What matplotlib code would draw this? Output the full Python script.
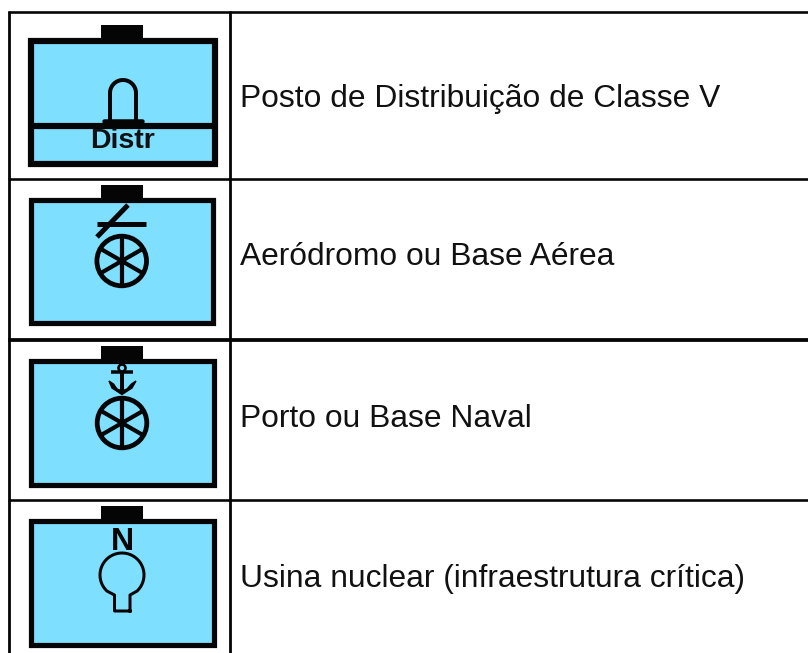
import matplotlib
matplotlib.use('Agg')
import numpy as np
import matplotlib.pyplot as plt
from matplotlib.patches import Rectangle, Circle

labels = [
    'Posto de Distribuição de Classe V',
    'Aeródromo ou Base Aérea',
    'Porto ou Base Naval',
    'Usina nuclear (infraestrutura crítica)',
]
label_y = [107, 265, 427, 587]

BLUE = '#7FDFFF'
DARK = '#050505'

plt.rcParams['font.family'] = ['Liberation Sans', 'DejaVu Sans']
fig = plt.figure(figsize=(8.08, 6.53), dpi=100)
ax = fig.add_axes([0, 0, 1, 1])
ax.set_xlim(0, 808)
ax.set_ylim(653, 0)
ax.axis('off')


def line(xs, ys, lw=3.6):
    # lw given in pixels
    ax.plot(xs, ys, color=DARK, lw=lw * 0.72, solid_capstyle='butt', zorder=4)


def frame(x0, y0, x1, y1, tab_y, lw=5.2):
    ax.add_patch(Rectangle((x0, y0), x1 - x0, y1 - y0, fc=BLUE, ec=DARK, lw=lw * 0.72, zorder=2))
    ax.add_patch(Rectangle((101, tab_y), 42, y0 - tab_y, fc=DARK, ec='none', zorder=3))


def wheel(cx, cy, r=24.8):
    ax.add_patch(Circle((cx, cy), r, fc='none', ec=DARK, lw=4.8 * 0.72, zorder=4))
    for a in np.deg2rad([90, 30, -30]):
        line([cx - r * np.cos(a), cx + r * np.cos(a)], [cy - r * np.sin(a), cy + r * np.sin(a)], 4.2)


# icon 1, distribution post
frame(31, 40.5, 215, 163.5, 25, 6.2)
line([31, 215], [126.3, 126.3], 6.2)
ax.plot([104, 142], [120.5, 120.5], color=DARK, lw=4.5 * 0.72, solid_capstyle='round', zorder=4)
t = np.deg2rad(np.linspace(180, 0, 30))
ax.plot(np.r_[110, 123 + 13 * np.cos(t), 136], np.r_[119, 93 - 13 * np.sin(t), 119],
        color=DARK, lw=4 * 0.72, zorder=4)
ax.text(123, 140.5, 'Distr', fontsize=20.5, fontweight='bold', ha='center', va='center', color='#111111', zorder=5)

# icon 2, airfield
frame(30.6, 200, 213, 323, 185)
wheel(121.7, 261)
line([97, 146], [224, 224], 5)
line([97, 128], [237, 205], 5)

# icon 3, naval base
frame(30.6, 360.5, 214, 485, 346)
wheel(122, 423)
ax.add_patch(Circle((122, 368), 3.5, fc=BLUE, ec=DARK, lw=2.6 * 0.72, zorder=5))
line([122, 122], [372, 393], 4)
line([111, 133], [372, 372], 3.5)
ax.fill([109, 112, 122, 132, 136, 131.5, 127, 122, 117, 113.5],
        [381, 388, 394.5, 388, 381, 384, 389, 391, 389, 384], color=DARK, zorder=4)

# icon 4, nuclear plant
frame(30.6, 520.5, 214, 645, 506)
ax.text(122, 541.5, 'N', fontsize=23, fontweight='bold', ha='center', va='center', color=DARK, zorder=5)
t = np.deg2rad(np.linspace(-47, 227, 60))
ax.plot(np.r_[130, 130, 122 + 22 * np.cos(t), 114.5, 114.5, 130],
        np.r_[611, 595, 575 - 22 * np.sin(t), 595, 611, 611],
        color=DARK, lw=3 * 0.72, zorder=6)

# table rules
line([9, 9], [11, 653], 2.8)
line([230.3, 230.3], [11, 653], 2.8)
line([8, 808], [12, 12], 2.6)
line([8, 808], [179, 179], 2.6)
line([8, 808], [340, 340], 3.8)
line([8, 808], [500, 500], 2.6)

for text, y in zip(labels, label_y):
    ax.text(240, y, text, fontsize=22.85, ha='left', va='baseline', color='#111111', zorder=5)

fig.savefig('out.png', dpi=100)
